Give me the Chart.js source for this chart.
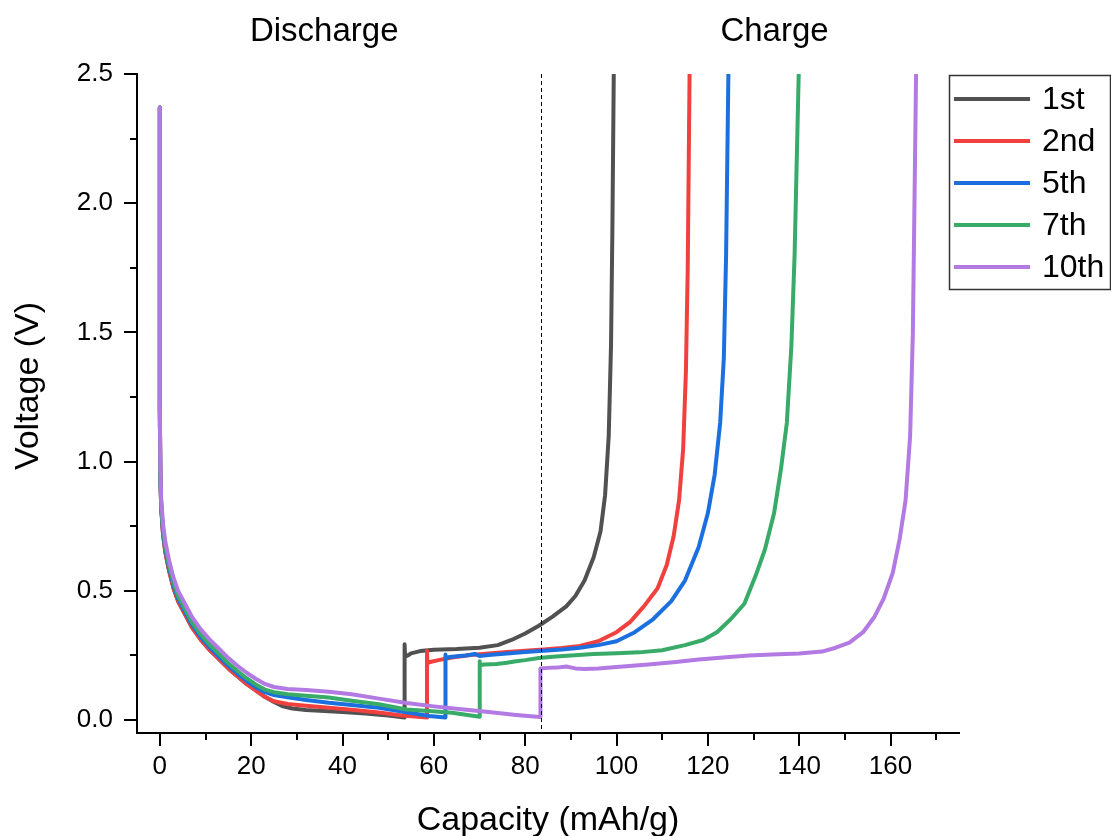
<!DOCTYPE html>
<html>
<head>
<meta charset="utf-8">
<script src="https://cdn.jsdelivr.net/npm/chart.js@4/dist/chart.umd.min.js"></script>
<style>
  html, body { margin: 0; padding: 0; background: #fff; }
  canvas { display: block; }
</style>
</head>
<body>
<canvas id="chart" width="1111" height="836"></canvas>
<script>
// Galvanostatic discharge / charge profiles (capacity in mAh/g, voltage in V)
const cycleNames = ["1st", "2nd", "5th", "7th", "10th"];
const cycleColors = ["#515151", "#f0413f", "#1c6fdf", "#38ab68", "#b27ae2"];

const cap1 = [0, 0, 0.1, 0.3, 0.7, 1.2, 2, 3, 4, 5.5, 7, 9, 11, 13, 15, 17, 19, 21, 23, 25, 27, 29, 32, 36, 40, 45, 50, 53.6,
  53.6, 53.7, 54.3, 55, 57, 60, 65, 70, 74, 77, 80, 83, 86, 89, 91, 93, 95, 96.5, 97.5, 98.3, 98.8, 99.1, 99.4];
const volt1 = [2.37, 1.2, 0.95, 0.82, 0.72, 0.65, 0.58, 0.51, 0.46, 0.41, 0.36, 0.31, 0.27, 0.235, 0.2, 0.17, 0.14, 0.115, 0.09, 0.07, 0.053, 0.045, 0.039, 0.035, 0.031, 0.025, 0.018, 0.01,
  0.293, 0.245, 0.25, 0.258, 0.267, 0.272, 0.275, 0.28, 0.29, 0.31, 0.335, 0.365, 0.4, 0.44, 0.48, 0.54, 0.63, 0.73, 0.87, 1.1, 1.45, 1.9, 2.5];

const cap2 = [0, 0, 0.1, 0.3, 0.7, 1.2, 2, 3, 4, 5.5, 7, 9, 11, 13, 15, 17, 19, 21, 23, 25, 28, 32, 37, 42, 48, 53, 58.5,
  58.5, 58.6, 59.2, 61, 64, 68, 72, 76, 80, 84, 88, 92, 96, 100, 103, 106, 109, 111, 112.5, 113.7, 114.6, 115.2, 115.6, 116];
const volt2 = [2.37, 1.2, 0.95, 0.82, 0.72, 0.65, 0.58, 0.51, 0.46, 0.41, 0.36, 0.31, 0.27, 0.235, 0.2, 0.17, 0.14, 0.115, 0.09, 0.073, 0.062, 0.055, 0.048, 0.04, 0.029, 0.018, 0.01,
  0.267, 0.22, 0.225, 0.232, 0.242, 0.252, 0.258, 0.263, 0.268, 0.273, 0.279, 0.287, 0.305, 0.34, 0.38, 0.44, 0.51, 0.6, 0.71, 0.85, 1.05, 1.35, 1.75, 2.5];

const cap5 = [0, 0, 0.1, 0.3, 0.7, 1.2, 2, 3, 4, 5.5, 7, 9, 11, 13, 15, 17, 19, 21, 23, 25, 28, 32, 37, 42, 48, 54, 59, 62.5,
  62.5, 62.6, 63.5, 65, 67, 69, 70, 72, 76, 80, 84, 88, 92, 96, 100, 104, 108, 112, 115, 118, 120, 121.5, 122.7, 123.5, 124, 124.5];
const volt5 = [2.37, 1.2, 0.96, 0.83, 0.73, 0.66, 0.59, 0.52, 0.47, 0.42, 0.37, 0.32, 0.28, 0.245, 0.21, 0.18, 0.152, 0.128, 0.108, 0.097, 0.088, 0.078, 0.067, 0.058, 0.048, 0.03, 0.016, 0.01,
  0.254, 0.24, 0.244, 0.247, 0.25, 0.256, 0.248, 0.252, 0.258, 0.263, 0.268, 0.273, 0.28, 0.29, 0.305, 0.34, 0.39, 0.46, 0.54, 0.67, 0.8, 0.95, 1.15, 1.4, 1.8, 2.5];

const cap7 = [0, 0, 0.1, 0.3, 0.7, 1.2, 2, 3, 4, 5.5, 7, 9, 11, 13, 15, 17, 19, 21, 23, 25, 28, 32, 37, 42, 48, 54, 59, 64, 70,
  70, 70.1, 71, 73.7, 76, 78, 80, 83, 86, 90, 95, 100, 105, 110, 115, 119, 122, 125, 128, 130.5, 132.5, 134.5, 136, 137.3, 138.3, 139, 139.9];
const volt7 = [2.37, 1.2, 0.96, 0.83, 0.74, 0.67, 0.6, 0.53, 0.48, 0.43, 0.38, 0.33, 0.29, 0.255, 0.22, 0.19, 0.162, 0.138, 0.118, 0.108, 0.1, 0.094, 0.087, 0.075, 0.061, 0.041, 0.035, 0.028, 0.013,
  0.228, 0.212, 0.215, 0.217, 0.222, 0.228, 0.232, 0.24, 0.245, 0.25, 0.256, 0.259, 0.262, 0.27, 0.29, 0.31, 0.34, 0.39, 0.45, 0.56, 0.66, 0.8, 0.97, 1.15, 1.45, 1.8, 2.5];

const cap10 = [0, 0, 0.1, 0.3, 0.7, 1.2, 2, 3, 4, 5.5, 7, 9, 11, 13, 15, 17, 19, 21, 23, 25, 28, 32, 37, 42, 48, 54, 60, 66, 72, 78, 83.3,
  83.3, 83.4, 85, 87, 89, 91, 93, 96, 100, 107, 113, 118, 124, 129, 134, 140, 145, 148, 151, 154, 156.5, 158.5, 160.5, 162, 163.3, 164.3, 164.9, 165.6];
const volt10 = [2.37, 1.25, 0.98, 0.85, 0.76, 0.69, 0.62, 0.55, 0.5, 0.45, 0.4, 0.35, 0.31, 0.275, 0.24, 0.21, 0.183, 0.16, 0.14, 0.128, 0.12, 0.116, 0.11, 0.1, 0.083, 0.066, 0.053, 0.042, 0.031, 0.02, 0.012,
  0.2, 0.2, 0.202, 0.203, 0.207, 0.2, 0.198, 0.2, 0.205, 0.215, 0.225, 0.234, 0.243, 0.25, 0.254, 0.258, 0.265, 0.28, 0.3, 0.34, 0.4, 0.47, 0.57, 0.7, 0.85, 1.1, 1.5, 2.5];

const capacities = [cap1, cap2, cap5, cap7, cap10];
const voltages = [volt1, volt2, volt5, volt7, volt10];

// axis ticks
const xTicks = [0, 20, 40, 60, 80, 100, 120, 140, 160];
const xMinor = [10, 30, 50, 70, 90, 110, 130, 150, 170];
const yTicks = [0, 0.5, 1.0, 1.5, 2.0, 2.5];
const yMinor = [0.25, 0.75, 1.25, 1.75, 2.25];

const dividerX = 83.4; // end of discharge of the 10th cycle
const FONT = "'Liberation Sans', Arial, sans-serif";

const datasets = cycleNames.map((name, i) => ({
  label: name,
  data: capacities[i].map((c, j) => ({ x: c, y: voltages[i][j] })),
  borderColor: cycleColors[i],
  backgroundColor: cycleColors[i],
  borderWidth: 4,
  borderJoinStyle: "round",
  pointRadius: 0,
  tension: 0,
  fill: false,
  order: cycleNames.length - i // later cycles drawn on top
}));

// ticks, divider, section labels, y title and legend box
const decorations = {
  id: "decorations",
  afterDraw(chart) {
    const { ctx, chartArea: a, scales: { x, y } } = chart;
    ctx.save();
    ctx.strokeStyle = "#000";
    ctx.lineWidth = 2;
    ctx.beginPath();
    xTicks.forEach(v => {
      const px = Math.round(x.getPixelForValue(v));
      ctx.moveTo(px, a.bottom);
      ctx.lineTo(px, a.bottom + 13);
    });
    xMinor.forEach(v => {
      const px = Math.round(x.getPixelForValue(v));
      ctx.moveTo(px, a.bottom);
      ctx.lineTo(px, a.bottom + 7);
    });
    yTicks.forEach(v => {
      const py = Math.round(y.getPixelForValue(v));
      ctx.moveTo(a.left, py);
      ctx.lineTo(a.left - 13, py);
    });
    yMinor.forEach(v => {
      const py = Math.round(y.getPixelForValue(v));
      ctx.moveTo(a.left, py);
      ctx.lineTo(a.left - 7, py);
    });
    ctx.stroke();

    // dashed divider between discharge and charge
    const dx = Math.round(x.getPixelForValue(dividerX)) + 0.5;
    ctx.lineWidth = 1;
    ctx.setLineDash([4, 3]);
    ctx.beginPath();
    ctx.moveTo(dx, a.top);
    ctx.lineTo(dx, a.bottom);
    ctx.stroke();
    ctx.setLineDash([]);

    // section labels
    ctx.fillStyle = "#000";
    ctx.font = "33px " + FONT;
    ctx.textAlign = "center";
    ctx.textBaseline = "middle";
    ctx.fillText("Discharge", x.getPixelForValue(36), 32);
    ctx.fillText("Charge", x.getPixelForValue(134.6), 32);

    // y axis title
    ctx.save();
    ctx.translate(29, 386);
    ctx.rotate(-Math.PI / 2);
    ctx.font = "34px " + FONT;
    ctx.fillText("Voltage (V)", 0, 0);
    ctx.restore();

    // legend
    const lx = 949.5, ly = 75.5;
    ctx.strokeStyle = "#333";
    ctx.lineWidth = 1.5;
    ctx.strokeRect(lx, ly, 161, 214);
    ctx.font = "32px " + FONT;
    ctx.textAlign = "left";
    cycleNames.forEach((name, i) => {
      const ry = 99 + 42 * i;
      ctx.strokeStyle = cycleColors[i];
      ctx.lineWidth = 4;
      ctx.beginPath();
      ctx.moveTo(954, ry);
      ctx.lineTo(1030, ry);
      ctx.stroke();
      ctx.fillText(name, 1042, ry + 1);
    });
    ctx.restore();
  }
};

new Chart(document.getElementById("chart"), {
  type: "line",
  data: { datasets },
  options: {
    responsive: false,
    animation: false,
    devicePixelRatio: 1,
    layout: { padding: { top: 74, right: 152, left: 0, bottom: 0 } },
    plugins: { legend: { display: false }, tooltip: { enabled: false } },
    scales: {
      x: {
        type: "linear",
        min: -5,
        max: 175,
        afterBuildTicks: s => { s.ticks = xTicks.map(v => ({ value: v })); },
        afterFit: s => { s.height = 103; },
        grid: { display: false, drawTicks: false },
        border: { display: true, color: "#000", width: 2 },
        ticks: { color: "#000", padding: 18, maxRotation: 0, font: { size: 26, family: FONT }, callback: v => String(v) },
        title: { display: true, text: "Capacity (mAh/g)", color: "#000", font: { size: 34, family: FONT }, padding: { top: 0, bottom: -5 } }
      },
      y: {
        type: "linear",
        min: -0.05,
        max: 2.5,
        afterBuildTicks: s => { s.ticks = yTicks.map(v => ({ value: v })); },
        afterFit: s => { s.width = 137; },
        grid: { display: false, drawTicks: false },
        border: { display: true, color: "#000", width: 2 },
        ticks: { color: "#000", padding: 24, font: { size: 26, family: FONT }, callback: v => v.toFixed(1) }
      }
    }
  },
  plugins: [decorations]
});
</script>
</body>
</html>
